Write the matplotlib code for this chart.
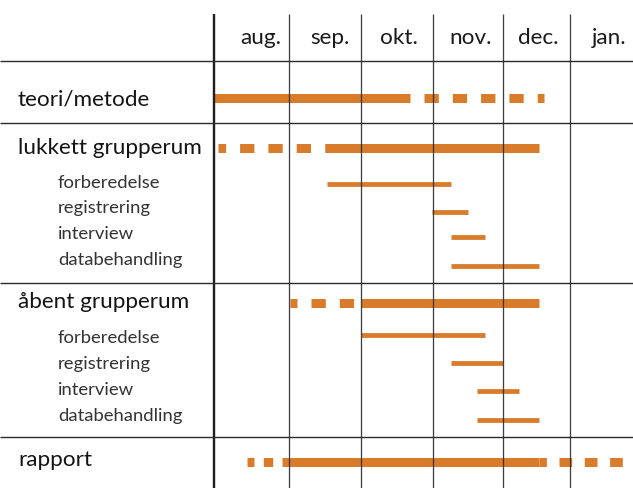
import numpy as np
import matplotlib
matplotlib.use("Agg")
import matplotlib.pyplot as plt
import matplotlib.transforms as mtransforms

# ---------------- data ----------------
months = ["aug.", "sep.", "okt.", "nov.", "dec.", "jan."]
rows = ["teori/metode", "lukkett grupperum", "forberedelse", "registrering",
        "interview", "databehandling", "åbent grupperum", "forberedelse",
        "registrering", "interview", "databehandling", "rapport"]
is_main = [True, True, False, False, False, False,
           True, False, False, False, False, True]
# solid (fixed) period, in months counted from 1 August
solid_start = [0.00, 1.49, 1.53, 2.98, 3.25, 3.25, 2.00, 2.00, 3.25, 3.63, 3.63, 0.90]
solid_end   = [2.67, 4.54, 3.25, 3.50, 3.75, 4.54, 4.54, 3.75, 4.00, 4.24, 4.54, 4.54]
# dashed (tentative) extension before / after the solid period
dash_before = [np.nan, 0.05, np.nan, np.nan, np.nan, np.nan, 1.01, np.nan, np.nan, np.nan, np.nan, 0.44]
dash_after  = [4.61, np.nan, np.nan, np.nan, np.nan, np.nan, np.nan, np.nan, np.nan, np.nan, np.nan, 5.80]

# ---------------- layout / style ----------------
W, H, DPI = 633, 488, 100
plt.rcParams['lines.scale_dashes'] = False
plt.rcParams['font.family'] = ['Lato', 'DejaVu Sans']
PT = 72.0 / DPI  # points per pixel

col_px = [75.3, 72.0, 72.0, 69.4, 67.3, 66.0]   # table column widths (px)
left_px = 214.0
edges_px = left_px + np.concatenate([[0.0], np.cumsum(col_px)])
knots_m = np.concatenate([[-20.0], np.arange(len(edges_px)), [len(edges_px) - 1 + 20.0]])
knots_p = np.concatenate([[left_px - 20 * 72.0], edges_px, [edges_px[-1] + 20 * 66.0]])

def fwd(x):
    return np.interp(x, knots_m, knots_p)

def inv(p):
    return np.interp(p, knots_p, knots_m)

bar_y = [97.7, 147.7, 184.3, 212.3, 236.7, 266.0, 303.0, 335.3, 363.0, 391.3, 420.3, 461.7]
label_base = [105.5, 154.0, 187.5, 213.5, 239.0, 264.5, 308.5, 343.3, 369.0, 395.0, 421.0, 466.5]
month_label_pos = [0.62, 1.56, 2.52, 3.54, 4.53, 5.60]
sep_y = [61.0, 122.5, 282.7, 437.3]

# dash patterns (px): (offset, on, off) for before / after segments
dash_before_style = {1: (6.7, 14.3, 14.0), 6: (7.3, 14.3, 14.0), 11: (2.4, 9.4, 9.3)}
dash_after_style = {0: (14.3, 14.3, 14.0), 11: (5.3, 12.7, 12.6)}

orange = '#D87C2C'
line_col = '#2b2b2b'

fig = plt.figure(figsize=(W / DPI, H / DPI), dpi=DPI)
ax = fig.add_axes([0, 0, 1, 1])
ax.set_xscale('function', functions=(fwd, inv))
ax.set_xlim(inv(0.0), inv(float(W)))
ax.set_ylim(H, 0)
ax.axis('off')

# bars
for i in range(len(rows)):
    lw = (9.0 if is_main[i] else 4.8) * PT
    y = bar_y[i]
    ax.plot([solid_start[i], solid_end[i]], [y, y], color=orange, lw=lw,
            solid_capstyle='butt', zorder=2)
    if not np.isnan(dash_before[i]):
        o, on, off = dash_before_style[i]
        ax.plot([dash_before[i], solid_start[i]], [y, y], color=orange, lw=lw,
                linestyle=(o * PT, (on * PT, off * PT)), dash_capstyle='butt', zorder=2)
    if not np.isnan(dash_after[i]):
        o, on, off = dash_after_style[i]
        ax.plot([solid_end[i], dash_after[i]], [y, y], color=orange, lw=lw,
                linestyle=(o * PT, (on * PT, off * PT)), dash_capstyle='butt', zorder=2)

# grid lines
ax.vlines(np.arange(1, len(months)), 14, H, color=line_col, lw=1.3 * PT, zorder=3, alpha=0.9)
ax.vlines([0], 14, H, color='#1e1e1e', lw=2.4 * PT, zorder=3)
xl = ax.get_xlim()
ax.hlines(sep_y, xl[0], xl[1], color=line_col, lw=1.4 * PT, zorder=3)

# month labels
for m, pos in zip(months, month_label_pos):
    ax.text(pos, 43.5, m, ha='center', va='baseline', fontsize=16.2, color='#1a1a1a')

# row labels
tr = mtransforms.blended_transform_factory(ax.transAxes, ax.transData)
for i, name in enumerate(rows):
    if is_main[i]:
        ax.text(18 / W, label_base[i], name, transform=tr, ha='left', va='baseline',
                fontsize=16.2, color='#141414')
    else:
        ax.text(58 / W, label_base[i], name, transform=tr, ha='left', va='baseline',
                fontsize=13.3, color='#333333')

fig.savefig('out.png', dpi=DPI)
